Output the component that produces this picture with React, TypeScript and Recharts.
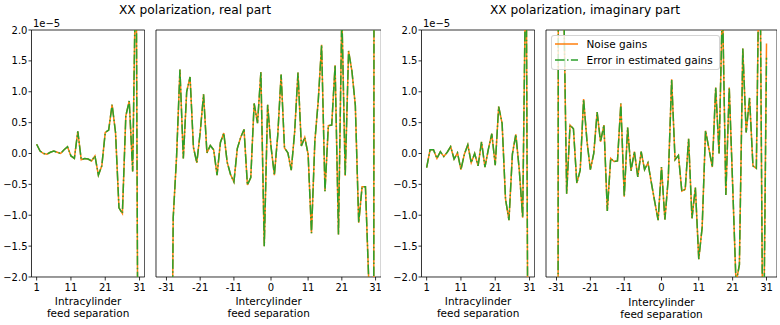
import React from 'react';
import { LineChart, Line, XAxis, YAxis, ReferenceArea, Legend } from 'recharts';

const FONT = '"DejaVu Sans", Verdana, sans-serif';
const ORANGE = '#ff7f0e';
const GREEN = '#2ca02c';
const DASHDOT = '9.6 2.4 1.5 2.4';

// feed separations
const intraSep = [1, 2, 3, 4, 5, 6, 7, 8, 9, 10, 11, 12, 13, 14, 15, 16, 17, 18, 19, 20, 21, 22, 23, 24, 25, 26, 27, 28, 29, 30, 31];
const interSep = [-31, -30, -29, -28, -27, -26, -25, -24, -23, -22, -21, -20, -19, -18, -17, -16, -15, -14, -13, -12, -11, -10, -9, -8, -7, -6, -5, -4, -3, -2, -1,
  0, 1, 2, 3, 4, 5, 6, 7, 8, 9, 10, 11, 12, 13, 14, 15, 16, 17, 18, 19, 20, 21, 22, 23, 24, 25, 26, 27, 28, 29, 30, 31];

const intraTicks = [1, 11, 21, 31];
const interTicks = [-31, -21, -11, 0, 11, 21, 31];
const yTicks = [-2, -1.5, -1, -0.5, 0, 0.5, 1, 1.5, 2];

// values in units of 1e-5
const realIntraNoise = [0.15, 0.04, 0.0, -0.01, 0.02, 0.04, 0.02, 0.0, 0.06, 0.11, -0.04, -0.08, 0.36, -0.1, -0.08, -0.09, -0.12, -0.04, -0.35, -0.2, 0.34, 0.38, 0.79, 0.34, -0.88, -0.97, 0.61, 0.85, -0.29, 3.5, -10];
const realIntraError = [0.15, 0.04, 0.0, -0.01, 0.02, 0.04, 0.02, 0.0, 0.06, 0.11, -0.04, -0.08, 0.36, -0.1, -0.08, -0.09, -0.12, -0.04, -0.35, -0.2, 0.34, 0.38, 0.79, 0.34, -0.88, -0.97, 0.61, 0.85, -0.29, 3.5, -10];

const realInterNoise = [-15, -8, -1.04, -0.05, 1.36, -0.08, 1.0, 1.24, 0.1, -0.15,
  0.34, 0.96, 0.01, 0.13, 0.06, -0.35, 0.18, 0.33, -0.14, -0.34,
  -0.46, 0.08, 0.26, 0.39, -0.51, -0.39, 0.81, 0.49, 1.32, -1.5,
  0.79,
  0.11, -0.35, 0.3, 1.28, 0.09, 0.01, -0.27, 0.34, 1.31, 0.12,
  0.26, -0.01, -1.29, 0.2, 0.85, 1.76, -0.61, 0.45, 0.46, 1.43,
  -1.31, 2.3, -0.36, 1.66, 1.33, 0.78, -1.12, -0.54, -0.54, -2.1,
  -40, 40];
const realInterError = [-15, -8, -1.04, -0.05, 1.36, -0.08, 1.0, 1.24, 0.1, -0.15,
  0.34, 0.96, 0.01, 0.13, 0.06, -0.35, 0.18, 0.33, -0.14, -0.34,
  -0.46, 0.08, 0.26, 0.39, -0.51, -0.39, 0.81, 0.49, 1.32, -1.5,
  0.79,
  0.11, -0.35, 0.3, 1.28, 0.09, 0.01, -0.27, 0.34, 1.31, 0.12,
  0.26, -0.01, -1.29, 0.2, 0.85, 1.76, -0.61, 0.45, 0.46, 1.43,
  -1.31, 2.3, -0.36, 1.66, 1.33, 0.78, -1.12, -0.54, -0.54, -2.1,
  -40, 40];

const imagIntraNoise = [-0.23, 0.06, 0.06, -0.08, 0.03, -0.05, 0.02, 0.11, -0.09, 0.01, -0.26, -0.01, 0.14, -0.15, 0.0, -0.2, 0.19, -0.22, 0.07, 0.32, -0.19, 0.76, 0.49, -0.74, -1.08, -0.01, 0.31, -0.26, -1.04, 3.6, -10];
const imagIntraError = [-0.23, 0.06, 0.06, -0.08, 0.03, -0.05, 0.02, 0.11, -0.09, 0.01, -0.26, -0.01, 0.14, -0.15, 0.0, -0.2, 0.19, -0.22, 0.07, 0.32, -0.19, 0.76, 0.49, -0.74, -1.08, -0.01, 0.31, -0.26, -1.04, 3.6, -10];

const imagInterNoise = [-40, 40, 3, -0.65, 0.46, 0.4, -0.48, -0.27, 0.88, 0.2,
  -0.26, 0.0, 0.67, 0.19, 0.46, -0.93, -0.08, -0.13, -0.12, 0.81,
  -0.7, 0.42, -0.28, 0.03, -0.38, 0.03, -0.26, -0.15, -0.47, -0.78,
  -1.08,
  -0.22, -1.07, -0.4, 1.2, -0.1, -0.03, -0.61, -0.58, 0.24, -1.05,
  -0.55, -1.71, -1.2, 0.37, 0.08, -0.22, 1.07, 0.0, 2.5, -0.67,
  1.07, -0.5, -2.1, -1.8, 1.7, 0.34, 0.9, -0.2, -0.24, 4,
  -4, 1.78];
const imagInterError = [-40, 40, 3, -0.65, 0.46, 0.4, -0.48, -0.27, 0.88, 0.2,
  -0.26, 0.0, 0.67, 0.19, 0.46, -0.93, -0.08, -0.13, -0.12, 0.81,
  -0.7, 0.42, -0.28, 0.03, -0.38, 0.03, -0.26, -0.15, -0.47, -0.78,
  -1.08,
  -0.22, -1.07, -0.4, 1.2, -0.1, -0.03, -0.61, -0.58, 0.24, -1.05,
  -0.55, -1.71, -1.2, 0.37, 0.08, -0.22, 1.07, 0.0, 2.5, -0.67,
  1.07, -0.5, -2.1, -1.8, 1.7, 0.34, 0.9, -0.2, -0.24, 4,
  -4, 1.55];

const titles = ['XX polarization, real part', 'XX polarization, imaginary part'];
const seriesNames = ['Noise gains', 'Error in estimated gains'];

const fmt = (v: number) => v.toFixed(1).replace('-', '\u2212');
const fmt0 = (v: number) => String(v);

const XLabel = (props: any) => {
  const vb = props.viewBox || {};
  const x = vb.x ?? 0;
  const y = vb.y ?? 277;
  const w = vb.width ?? 100;
  const lines: string[] = props.lines;
  return (
    <g>
      <text x={x + w / 2} y={y + 28.5} textAnchor="middle" fontSize={10.5} fontFamily={FONT} fill="#000">{lines[0]}</text>
      <text x={x + w / 2} y={y + 40.5} textAnchor="middle" fontSize={10.5} fontFamily={FONT} fill="#000">{lines[1]}</text>
    </g>
  );
};

const OffsetLabel = (props: any) => {
  const vb = props.viewBox || {};
  const x = (vb.x ?? 0) + (vb.width ?? 31);
  const y = vb.y ?? 30;
  return (
    <text x={x + 1.5} y={y - 3} fontSize={10} fontFamily={FONT} fill="#000">1e{'\u2212'}5</text>
  );
};

const LegendBox = (props: any) => {
  const raw: any[] = props.payload && props.payload.length ? props.payload : seriesNames.map((n, i) => ({ value: n, color: i === 0 ? ORANGE : GREEN }));
  const payload = [...raw].sort((a, b) => seriesNames.indexOf(a.value) - seriesNames.indexOf(b.value));
  return (
    <div style={{ boxSizing: 'border-box', width: 169, height: 35, border: '1px solid rgba(204,204,204,0.85)', borderRadius: 3, background: 'rgba(255,255,255,0.8)', position: 'relative', fontFamily: FONT, fontSize: 10.5, color: '#000' }}>
      {payload.map((p, i) => {
        const dash = p.value === seriesNames[1] ? DASHDOT : undefined;
        const cy = 8 + i * 16;
        return (
          <div key={p.value} style={{ position: 'absolute', left: 0, top: cy - 7, height: 14, width: 167 }}>
            <svg width={30} height={14} style={{ position: 'absolute', left: 0, top: 0 }}>
              <line x1={3} x2={26} y1={7} y2={7} stroke={p.color} strokeWidth={1.5} strokeDasharray={dash} />
            </svg>
            <span style={{ position: 'absolute', left: 34.5, top: 0, lineHeight: '14px', whiteSpace: 'nowrap' }}>{p.value}</span>
          </div>
        );
      })}
    </div>
  );
};

type PanelProps = {
  left: number;
  plotLeft: number;
  plotRight: number;
  xs: number[];
  noise: number[];
  error: number[];
  xDomain: [number, number];
  xTicks: number[];
  showYLabels: boolean;
  xLabel: string[];
  legend?: boolean;
};

const Panel = ({ left, plotLeft, plotRight, xs, noise, error, xDomain, xTicks, showYLabels, xLabel, legend }: PanelProps) => {
  const data = xs.map((x, i) => ({ x, noise: noise[i], error: error[i] }));
  const yAxisWidth = plotLeft - left;
  const width = plotRight - left;
  const tickStyle = { fill: '#000', fontSize: 10, fontFamily: FONT };
  return (
    <div style={{ position: 'absolute', left, top: 0 }}>
      <LineChart width={width} height={325} data={data} margin={{ top: 30, right: 0, bottom: 0, left: 0 }}>
        <XAxis
          dataKey="x"
          type="number"
          domain={xDomain}
          ticks={xTicks}
          interval={0}
          allowDataOverflow
          axisLine={false}
          stroke="#000"
          tickLine={{ stroke: '#000', strokeWidth: 0.8 }}
          tickSize={3.5}
          tickMargin={3}
          height={48}
          tick={tickStyle}
          tickFormatter={fmt0}
          label={(p: any) => <XLabel {...p} lines={xLabel} />}
        />
        <YAxis
          type="number"
          domain={[-2, 2]}
          ticks={yTicks}
          interval={0}
          allowDataOverflow
          axisLine={false}
          stroke="#000"
          width={yAxisWidth}
          tickSize={3}
          tickMargin={1}
          tickFormatter={fmt}
          tick={showYLabels ? tickStyle : false}
          tickLine={{ stroke: '#000', strokeWidth: 0.8 }}
          label={showYLabels ? (p: any) => <OffsetLabel {...p} /> : undefined}
        />
        <Line dataKey="noise" name={seriesNames[0]} type="linear" stroke={ORANGE} strokeWidth={1.5} dot={false} activeDot={false} isAnimationActive={false} />
        <Line dataKey="error" name={seriesNames[1]} type="linear" stroke={GREEN} strokeWidth={1.5} strokeDasharray={DASHDOT} dot={false} activeDot={false} isAnimationActive={false} />
        <ReferenceArea x1={xDomain[0]} x2={xDomain[1]} y1={-2} y2={2} fill="none" fillOpacity={0} stroke="#000" strokeWidth={0.8} ifOverflow="visible" />
        {legend && (
          <Legend
            layout="horizontal"
            align="center"
            verticalAlign="middle"
            wrapperStyle={{ position: 'absolute', left: 9, top: 35, width: 169, height: 35 }}
            content={(p: any) => <LegendBox {...p} />}
          />
        )}
      </LineChart>
    </div>
  );
};

export default function App() {
  return (
    <div style={{ position: 'absolute', left: 0, top: 0, width: 780, height: 325, background: '#fff', overflow: 'hidden', fontFamily: FONT }}>
      <svg width={780} height={22} style={{ position: 'absolute', left: 0, top: 0 }}>
        <text x={195} y={13.5} textAnchor="middle" fontSize={12.2} fontFamily={FONT} fill="#000">{titles[0]}</text>
        <text x={585} y={13.5} textAnchor="middle" fontSize={12.2} fontFamily={FONT} fill="#000">{titles[1]}</text>
      </svg>
      <Panel left={0} plotLeft={31.5} plotRight={144.7} xs={intraSep} noise={realIntraNoise} error={realIntraError}
        xDomain={[-0.5, 32.5]} xTicks={intraTicks} showYLabels xLabel={['Intracylinder', 'feed separation']} />
      <Panel left={152} plotLeft={156} plotRight={381.3} xs={interSep} noise={realInterNoise} error={realInterError}
        xDomain={[-34.1, 32.7]} xTicks={interTicks} showYLabels={false} xLabel={['Intercylinder', 'feed separation']} />
      <Panel left={390} plotLeft={421.5} plotRight={534.7} xs={intraSep} noise={imagIntraNoise} error={imagIntraError}
        xDomain={[-0.5, 32.5]} xTicks={intraTicks} showYLabels xLabel={['Intracylinder', 'feed separation']} />
      <Panel left={542} plotLeft={546} plotRight={777} xs={interSep} noise={imagInterNoise} error={imagInterError}
        xDomain={[-34.1, 34.1]} xTicks={interTicks} showYLabels={false} xLabel={['Intercylinder', 'feed separation']} legend />
    </div>
  );
}
